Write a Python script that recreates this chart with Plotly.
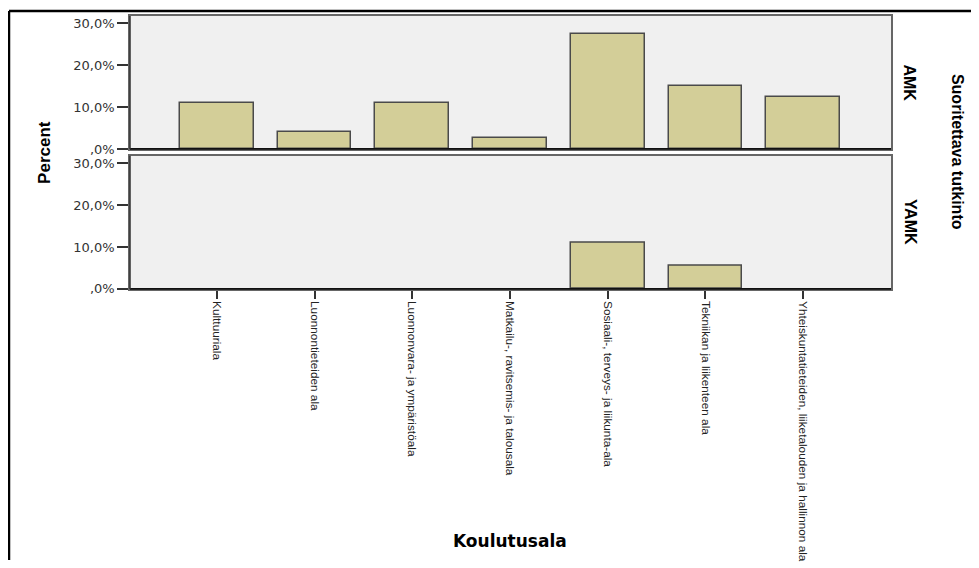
import plotly.graph_objects as go

categories = [
    "Kulttuuriala",
    "Luonnontieteiden ala",
    "Luonnonvara- ja ympäristöala",
    "Matkailu-, ravitsemis- ja talousala",
    "Sosiaali-, terveys- ja liikunta-ala",
    "Tekniikan ja liikenteen ala",
    "Yhteiskuntatieteiden, liiketalouden ja hallinnon ala",
]
amk_values = [11.0, 4.1, 11.0, 2.7, 27.5, 15.1, 12.4]
yamk_values = [None, None, None, None, 11.1, 5.6, None]
panel_labels = ["AMK", "YAMK"]
y_tickvals = [0, 10, 20, 30]
y_ticktext = [",0%", "10,0%", "20,0%", "30,0%"]

OFF = 8  # page body margin
W, H = 979 - OFF, 568 - OFF
BAR_FILL = "#d3ce98"
BAR_LINE = "#4a4a4a"
PANEL_BG = "#f0f0f0"

def px_x(v):
    return (v - OFF) / W

def px_y(v):
    return 1 - (v - OFF) / H

fig = go.Figure()
fig.add_trace(go.Bar(x=categories, y=amk_values, xaxis="x", yaxis="y",
                     width=0.755, marker=dict(color=BAR_FILL, line=dict(color=BAR_LINE, width=1.5)),
                     showlegend=False, hoverinfo="x+y"))
fig.add_trace(go.Bar(x=categories, y=yamk_values, xaxis="x2", yaxis="y2",
                     width=0.755, marker=dict(color=BAR_FILL, line=dict(color=BAR_LINE, width=1.5)),
                     showlegend=False, hoverinfo="x+y"))

xdom = [px_x(130), px_x(891)]
xrange = [-0.888, 6.898]
yrange = [0, 31.76]
tickfont_y = dict(family="DejaVu Sans", size=13, color="#333333")
tickfont_x = dict(family="Liberation Sans, Arial, sans-serif", size=11.8, color="#222222")

common_y = dict(range=yrange, tickvals=y_tickvals, ticktext=y_ticktext, ticks="outside",
                ticklen=11, tickcolor="#333333", tickwidth=1.5, showline=True, linecolor="#666666",
                linewidth=1.5, mirror=True, showgrid=False, zeroline=False, tickfont=tickfont_y,
                fixedrange=True)

fig.update_layout(
    width=W, height=H,
    margin=dict(l=0, r=0, t=0, b=0),
    paper_bgcolor="white",
    plot_bgcolor=PANEL_BG,
    bargap=0,
    xaxis=dict(domain=xdom, range=xrange, anchor="y", showticklabels=False, ticks="",
               showline=True, linecolor="#666666", linewidth=1.5, mirror=True, showgrid=False,
               zeroline=False, type="category", fixedrange=True),
    yaxis=dict(domain=[px_y(151), px_y(16)], anchor="x", **common_y),
    xaxis2=dict(domain=xdom, range=xrange, anchor="y2", ticks="outside", ticklen=8,
                tickcolor="#333333", tickwidth=1.5, tickangle=90, tickfont=tickfont_x,
                showline=True, linecolor="#666666", linewidth=1.5, mirror=True, showgrid=False,
                zeroline=False, type="category", fixedrange=True),
    yaxis2=dict(domain=[px_y(293), px_y(158)], anchor="x2", **common_y),
)

# Black baselines and left edges of each panel
for top, bot in ((16, 151), (158, 293)):
    fig.add_shape(type="line", xref="paper", yref="paper", x0=px_x(130), x1=px_x(891),
                  y0=px_y(bot), y1=px_y(bot), line=dict(color="#111111", width=1.8))
    fig.add_shape(type="line", xref="paper", yref="paper", x0=px_x(130), x1=px_x(130),
                  y0=px_y(bot), y1=px_y(top), line=dict(color="#333333", width=1.5))

# Outer frame (top and left edges)
fig.add_shape(type="line", xref="paper", yref="paper", x0=px_x(9), x1=1,
              y0=px_y(11), y1=px_y(11), line=dict(color="black", width=2.5))
fig.add_shape(type="line", xref="paper", yref="paper", x0=px_x(9), x1=px_x(9),
              y0=px_y(11), y1=0, line=dict(color="black", width=2.5))

title_font = dict(family="Liberation Sans, Arial, sans-serif", size=16, color="black")
ann = [
    dict(text="<b>Percent</b>", x=px_x(45), y=px_y(155), textangle=-90,
         font=dict(size=17, family=title_font["family"], color="black")),
    dict(text="<b>Koulutusala</b>", x=px_x(510), y=px_y(549), textangle=0,
         font=dict(family="DejaVu Sans", size=17, color="black")),
    dict(text="<b>" + panel_labels[0] + "</b>", x=px_x(910), y=px_y(83.5), textangle=90, font=title_font),
    dict(text="<b>" + panel_labels[1] + "</b>", x=px_x(910), y=px_y(225), textangle=90, font=title_font),
    dict(text="<b>Suoritettava tutkinto</b>", x=px_x(957), y=px_y(154), textangle=90, font=title_font),
]
for a in ann:
    fig.add_annotation(xref="paper", yref="paper", showarrow=False, xanchor="center", yanchor="middle", **a)

fig.write_html("out.html")
